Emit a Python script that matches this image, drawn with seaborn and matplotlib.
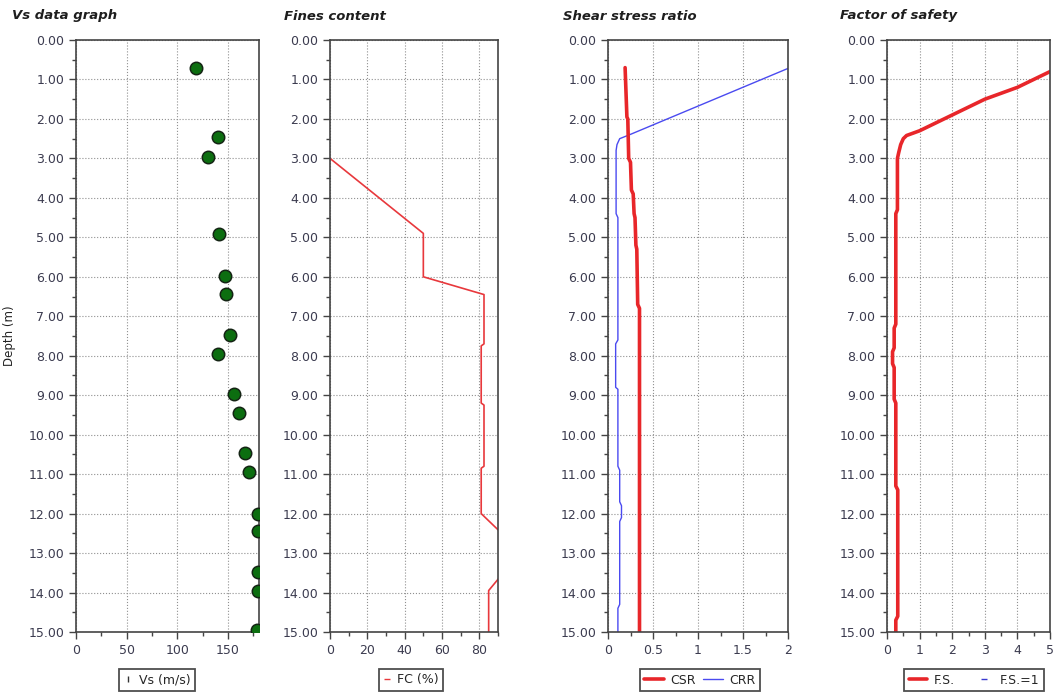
import matplotlib
matplotlib.use("Agg")
import pandas as pd
import matplotlib.pyplot as plt
from matplotlib.lines import Line2D
from matplotlib.ticker import MultipleLocator, FormatStrFormatter
import seaborn as sns

# Vs measurements
vs_depth = [0.72, 2.45, 2.96, 4.92, 5.98, 6.44, 7.48, 7.95, 8.98, 9.45,
            10.47, 10.94, 12.0, 12.45, 13.49, 13.96, 14.96]
vs_values = [118, 140, 130, 141, 147, 148, 152, 140, 156, 161,
             167, 171, 180, 180, 180, 180, 179]

# Fines content profile
fc_depth = [3.0, 4.9, 6.0, 6.45, 7.7, 7.75, 9.2, 9.25, 10.8, 10.85,
            12.0, 12.5, 13.55, 13.95, 15.0]
fc_values = [0, 50, 50, 82.5, 82.5, 81, 81, 82.5, 82.5, 81,
             81, 92, 92, 85, 85]

# Shear stress ratio
csr_depth = [0.7, 1.95, 2.0, 3.0, 3.1, 3.8, 3.9, 4.4, 4.5, 5.2, 5.3, 6.7, 6.8, 15.0]
csr_values = [0.19, 0.21, 0.22, 0.23, 0.25, 0.26, 0.28, 0.29, 0.30, 0.31, 0.32, 0.33, 0.35, 0.35]
crr_depth = [0.72, 2.4, 2.5, 2.65, 2.8, 4.4, 4.5, 7.6, 7.7, 8.8, 8.85, 10.8,
             10.9, 11.7, 11.8, 12.1, 12.2, 14.3, 14.4, 15.0]
crr_values = [2.0, 0.24, 0.13, 0.10, 0.09, 0.09, 0.11, 0.11, 0.085, 0.085, 0.11, 0.11,
              0.13, 0.13, 0.15, 0.15, 0.13, 0.13, 0.11, 0.11]

# Factor of safety
fs_depth = [0.8, 1.2, 1.5, 1.9, 2.3, 2.42, 2.5, 2.65, 2.85, 3.0, 4.3, 4.4, 7.2, 7.3,
            7.8, 7.9, 8.2, 8.3, 9.1, 9.2, 11.3, 11.4, 14.6, 14.7, 15.0]
fs_values = [5.0, 4.0, 3.0, 2.0, 1.0, 0.6, 0.5, 0.42, 0.36, 0.32, 0.32, 0.27, 0.27, 0.22,
             0.22, 0.17, 0.17, 0.22, 0.22, 0.27, 0.27, 0.33, 0.33, 0.27, 0.27]

sns.set_style("white")
plt.rcParams['font.family'] = ['DejaVu Sans']

fig = plt.figure(figsize=(10.56, 6.98), dpi=100)
bottom, height = 1 - 632 / 698, (632 - 40) / 698
W = 1056
axes = [fig.add_axes([76 / W, bottom, 183 / W, height]),
        fig.add_axes([330 / W, bottom, 168 / W, height]),
        fig.add_axes([608 / W, bottom, 180 / W, height]),
        fig.add_axes([887 / W, bottom, 163 / W, height])]

tick_col = '#3b3b4f'
xsetup = [(180.5, 50, 25), (90, 20, 10), (2, 0.5, 0.25), (5, 1, 0.5)]

# Vs data graph
vs_df = pd.DataFrame({'depth': vs_depth, 'vs': vs_values})
sns.scatterplot(data=vs_df, x='vs', y='depth', ax=axes[0], s=80, color='#0c6e10',
                edgecolor='#142414', linewidth=1.1, zorder=3, legend=False)

# Fines content
fc_df = pd.DataFrame({'depth': fc_depth, 'fc': fc_values})
sns.lineplot(data=fc_df, x='fc', y='depth', ax=axes[1], sort=False, estimator=None,
             color='#e8383c', linewidth=1.2)

# Shear stress ratio
csr_df = pd.DataFrame({'depth': csr_depth, 'ratio': csr_values})
crr_df = pd.DataFrame({'depth': crr_depth, 'ratio': crr_values})
sns.lineplot(data=crr_df, x='ratio', y='depth', ax=axes[2], sort=False, estimator=None,
             color='#4a4af0', linewidth=1.0)
sns.lineplot(data=csr_df, x='ratio', y='depth', ax=axes[2], sort=False, estimator=None,
             color='#e8262a', linewidth=2.6)

# Factor of safety
fs_df = pd.DataFrame({'depth': fs_depth, 'fs': fs_values})
sns.lineplot(data=fs_df, x='fs', y='depth', ax=axes[3], sort=False, estimator=None,
             color='#e8262a', linewidth=2.6)

for ax, (xmax, major, minor) in zip(axes, xsetup):
    ax.set_xlim(0, xmax)
    ax.set_ylim(15, 0)
    ax.set_xlabel('')
    ax.set_ylabel('')
    ax.yaxis.set_major_locator(MultipleLocator(1))
    ax.yaxis.set_minor_locator(MultipleLocator(0.5))
    ax.yaxis.set_major_formatter(FormatStrFormatter('%.2f'))
    ax.xaxis.set_major_locator(MultipleLocator(major))
    ax.xaxis.set_minor_locator(MultipleLocator(minor))
    ax.xaxis.set_major_formatter(FormatStrFormatter('%g'))
    ax.grid(True, which='major', linestyle=':', color='#909090', linewidth=0.8)
    ax.tick_params(which='major', direction='out', length=5, width=1, color='#444',
                   labelsize=9, labelcolor=tick_col, bottom=True, left=True)
    ax.tick_params(which='minor', direction='out', length=3, width=1, color='#444',
                   bottom=True, left=True)
    for s in ax.spines.values():
        s.set_color('#444444')
        s.set_linewidth(1.2)

axes[0].set_ylabel('Depth (m)', fontsize=8.5, color='#222')
axes[0].yaxis.set_label_coords(-0.33, 0.5)

# titles
titles = ['Vs data graph', 'Fines content', 'Shear stress ratio', 'Factor of safety']
title_x = [12, 284, 563, 840]
for t, x in zip(titles, title_x):
    fig.text(x / W, 1 - 16 / 698, t, fontsize=9.5, fontweight='bold', style='italic',
             color='#1e1e1e', ha='left', va='center')

# legends
leg_kw = dict(loc='center', bbox_transform=fig.transFigure, frameon=True, fancybox=False,
              fontsize=9, borderpad=0.35, handletextpad=0.5, borderaxespad=0)
leg_y = 1 - 680 / 698
legs = []
legs.append(axes[0].legend([Line2D([], [], marker='|', ls='none', color='#333', markersize=4)],
                           ['Vs (m/s)'], bbox_to_anchor=(157 / W, leg_y), handlelength=0.8, **leg_kw))
legs.append(axes[1].legend([Line2D([], [], marker='_', ls='none', color='#e8383c', markersize=5)],
                           ['FC (%)'], bbox_to_anchor=(411 / W, leg_y), handlelength=0.6, **leg_kw))
legs.append(axes[2].legend([Line2D([], [], color='#e8262a', lw=2.6),
                            Line2D([], [], color='#4a4af0', lw=1.0)],
                           ['CSR', 'CRR'], ncol=2, bbox_to_anchor=(700 / W, leg_y),
                           handlelength=1.6, columnspacing=0.6, **leg_kw))
legs.append(axes[3].legend([Line2D([], [], color='#e8262a', lw=2.6),
                            Line2D([], [], marker='_', ls='none', color='#3a3ad0', markersize=5)],
                           ['F.S.', 'F.S.=1'], ncol=2, bbox_to_anchor=(974 / W, leg_y),
                           handlelength=1.5, columnspacing=1.6, **leg_kw))
for lg in legs:
    lg.get_frame().set_edgecolor('#222222')
    lg.get_frame().set_linewidth(1.3)

fig.savefig('out.png', dpi=100)
